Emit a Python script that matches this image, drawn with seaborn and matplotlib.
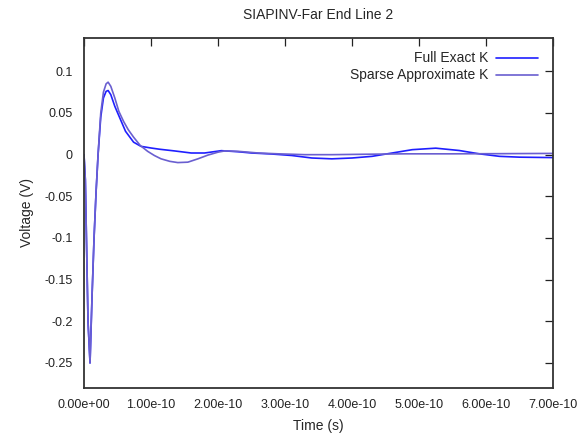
import matplotlib
matplotlib.use("Agg")
import matplotlib.pyplot as plt
import matplotlib.ticker as mticker
from matplotlib.lines import Line2D
import seaborn as sns
import pandas as pd

# time in units of 1e-10 s
t_full = [0.0, 0.02, 0.06, 0.09, 0.12, 0.15, 0.18, 0.21, 0.25, 0.29, 0.33, 0.36,
          0.40, 0.46, 0.54, 0.62, 0.74, 0.85, 1.0, 1.13, 1.35, 1.6, 1.8, 2.05,
          2.3, 2.5, 2.8, 3.1, 3.4, 3.7, 4.0, 4.3, 4.6, 4.9, 5.25, 5.6, 5.9, 6.2,
          6.5, 7.0]
v_full = [0.0, -0.03, -0.20, -0.25, -0.17, -0.10, -0.045, 0.0, 0.045, 0.068, 0.076, 0.077,
          0.072, 0.058, 0.043, 0.028, 0.015, 0.010, 0.008, 0.0065, 0.0045, 0.002, 0.002, 0.0048,
          0.0035, 0.002, 0.0008, -0.001, -0.004, -0.005, -0.004, -0.002, 0.002, 0.006, 0.0078, 0.005, 0.001, -0.002,
          -0.003, -0.0035]

t_sparse = [0.0, 0.02, 0.06, 0.09, 0.12, 0.15, 0.18, 0.21, 0.25, 0.29, 0.33, 0.36,
            0.40, 0.46, 0.52, 0.59, 0.66, 0.74, 0.84, 0.95, 1.05, 1.15, 1.28, 1.40,
            1.55, 1.70, 1.85, 2.0, 2.1, 2.3, 2.6, 2.9, 3.3, 3.7, 4.2, 4.8, 5.5, 6.2, 7.0]
v_sparse = [0.0, -0.03, -0.20, -0.25, -0.17, -0.10, -0.045, 0.0, 0.05, 0.075, 0.085, 0.087,
            0.082, 0.068, 0.052, 0.040, 0.030, 0.021, 0.011, 0.004, -0.001, -0.005, -0.008, -0.0095,
            -0.009, -0.005, -0.0005, 0.003, 0.0045, 0.004, 0.002, 0.001, 0.0, 0.0, 0.0005, 0.001, 0.001, 0.0012, 0.0015]

series_names = ["Full Exact K", "Sparse Approximate K"]
series_colors = ["#1f1fff", "#6a5fd0"]
x_ticks = [0, 1e-10, 2e-10, 3e-10, 4e-10, 5e-10, 6e-10, 7e-10]
y_ticks = [-0.25, -0.2, -0.15, -0.1, -0.05, 0, 0.05, 0.1]

sns.set_style("white")
plt.rcParams['font.family'] = ['Liberation Sans', 'DejaVu Sans']
plt.rcParams['axes.unicode_minus'] = False

df = pd.concat([
    pd.DataFrame({"t": [x * 1e-10 for x in t_full], "v": v_full, "s": series_names[0]}),
    pd.DataFrame({"t": [x * 1e-10 for x in t_sparse], "v": v_sparse, "s": series_names[1]}),
])

fig = plt.figure(figsize=(5.81, 4.45), dpi=100)
ax = fig.add_axes([84 / 581, 1 - 388 / 445, (553 - 84) / 581, (388 - 38) / 445])

sns.lineplot(data=df, x="t", y="v", hue="s", palette=dict(zip(series_names, series_colors)),
             sort=False, estimator=None, linewidth=1.2, legend=False, ax=ax)

ax.set_xlim(0, 7e-10)
ax.set_ylim(-0.28, 0.14)
ax.set_xticks(x_ticks)
ax.set_yticks(y_ticks)
ax.xaxis.set_major_formatter(mticker.FuncFormatter(lambda v, p: "%.2e" % v))
ax.yaxis.set_major_formatter(mticker.FuncFormatter(lambda v, p: "%g" % round(v, 4)))
ax.tick_params(direction="in", length=6, width=0.9, top=True, right=True,
               labelsize=9, colors="#222222", pad=8)
for s in ax.spines.values():
    s.set_linewidth(1.3)
    s.set_color("#333333")

ax.set_xlabel("Time (s)", fontsize=10, labelpad=6)
ax.set_ylabel("Voltage (V)", fontsize=10, labelpad=8)
ax.set_title("SIAPINV-Far End Line 2", fontsize=10, pad=14)

# gnuplot-style key: right-aligned text followed by a line sample
key_y = [0.944, 0.894]
for name, col, yy in zip(series_names, series_colors, key_y):
    ax.text(0.862, yy, name, transform=ax.transAxes, ha="right", va="center", fontsize=10)
    ax.add_line(Line2D([0.878, 0.968], [yy, yy], transform=ax.transAxes, color=col, linewidth=1.2))

fig.savefig("out.png", dpi=100)
